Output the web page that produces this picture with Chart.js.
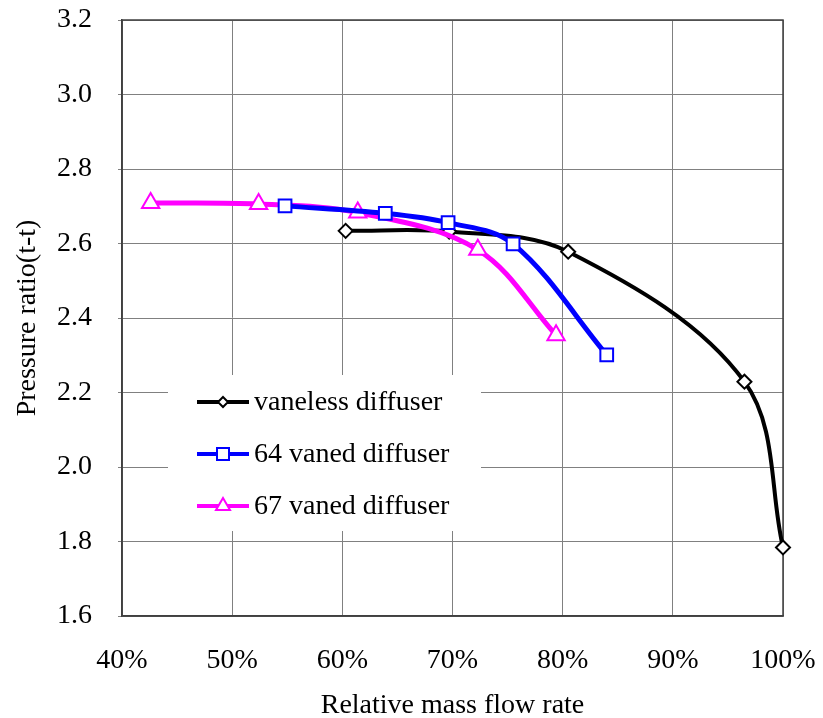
<!DOCTYPE html>
<html>
<head>
<meta charset="utf-8">
<script src="https://cdn.jsdelivr.net/npm/chart.js@4/dist/chart.umd.min.js"></script>
<style>
  html, body { margin: 0; padding: 0; background: #fff; }
  #wrap { width: 823px; height: 718px; }
</style>
</head>
<body>
<div id="wrap"><canvas id="prChart" width="823" height="718"></canvas></div>
<script>
"use strict";

// relative mass flow rate (%) and total-to-total pressure ratio
const vanelessFlow  = [60.3, 69.7, 80.5, 96.5, 100];
const vanelessRatio = [2.634, 2.632, 2.578, 2.229, 1.784];
const vaned64Flow   = [54.8, 63.9, 69.6, 75.5, 84.0];
const vaned64Ratio  = [2.701, 2.681, 2.656, 2.599, 2.301];
const vaned67Flow   = [42.6, 52.4, 61.4, 72.3, 79.4];
const vaned67Ratio  = [2.709, 2.706, 2.683, 2.583, 2.354];

const seriesNames = ["vaneless diffuser", "64 vaned diffuser", "67 vaned diffuser"];
const xTicks = [40, 50, 60, 70, 80, 90, 100];
const yTicks = [1.6, 1.8, 2.0, 2.2, 2.4, 2.6, 2.8, 3.0, 3.2];

const FONT = "'Liberation Serif', 'Times New Roman', serif";

const toPoints = (xs, ys) => xs.map((x, i) => ({ x: x, y: ys[i] }));

function drawMarker(ctx, style, x, y, r, color, lw) {
  ctx.save();
  ctx.beginPath();
  if (style === "rectRot") {
    ctx.moveTo(x, y - r); ctx.lineTo(x + r, y); ctx.lineTo(x, y + r); ctx.lineTo(x - r, y);
  } else if (style === "rect") {
    ctx.rect(x - r, y - r, 2 * r, 2 * r);
  } else {
    const h = r * 1.7, w = r * 2;
    ctx.moveTo(x, y - h * 2 / 3); ctx.lineTo(x + w / 2, y + h / 3); ctx.lineTo(x - w / 2, y + h / 3);
  }
  ctx.closePath();
  ctx.fillStyle = "#fff"; ctx.fill();
  ctx.strokeStyle = color; ctx.lineWidth = lw; ctx.stroke();
  ctx.restore();
}

const legendMarkerSize = [5, 6, 7];

// legend sitting inside the plot, white box over the grid
const innerLegend = {
  id: "innerLegend",
  afterDraw(chart) {
    const ctx = chart.ctx;
    const a = chart.chartArea;
    const bx = a.left + 46, by = a.top + 355;
    ctx.save();
    ctx.fillStyle = "#fff";
    ctx.fillRect(bx, by, 313, 156);
    const rows = [27, 79, 131];
    chart.data.datasets.forEach((ds, i) => {
      const y = by + rows[i];
      ctx.strokeStyle = ds.borderColor;
      ctx.lineWidth = 4;
      ctx.beginPath();
      ctx.moveTo(bx + 29, y); ctx.lineTo(bx + 81, y);
      ctx.stroke();
      drawMarker(ctx, ds.pointStyle, bx + 55, y, legendMarkerSize[i], ds.borderColor, 2);
      ctx.fillStyle = "#000";
      ctx.font = "28px " + FONT;
      ctx.textAlign = "left";
      ctx.textBaseline = "middle";
      ctx.fillText(ds.label, bx + 86, y + 1);
    });
    ctx.restore();
  }
};

function noPad(s) {
  s.paddingTop = 0; s.paddingBottom = 0; s.paddingLeft = 0; s.paddingRight = 0;
}

new Chart(document.getElementById("prChart").getContext("2d"), {
  type: "scatter",
  data: {
    datasets: [
      { label: seriesNames[0], data: toPoints(vanelessFlow, vanelessRatio), showLine: true, order: 3, clip: false,
        borderColor: "#000000", borderWidth: 4, tension: 0.35, pointStyle: "rectRot", pointRadius: 7,
        pointBorderWidth: 2, pointBackgroundColor: "#fff", pointBorderColor: "#000000" },
      { label: seriesNames[1], data: toPoints(vaned64Flow, vaned64Ratio), showLine: true, order: 1, clip: false,
        borderColor: "#0000ff", borderWidth: 5, tension: 0.35, pointStyle: "rect", pointRadius: 9,
        pointBorderWidth: 2, pointBackgroundColor: "#fff", pointBorderColor: "#0000ff" },
      { label: seriesNames[2], data: toPoints(vaned67Flow, vaned67Ratio), showLine: true, order: 2, clip: false,
        borderColor: "#ff00ff", borderWidth: 5, tension: 0.35, pointStyle: "triangle", pointRadius: 10,
        pointBorderWidth: 2, pointBackgroundColor: "#fff", pointBorderColor: "#ff00ff" }
    ]
  },
  options: {
    responsive: false,
    animation: false,
    events: [],
    layout: { padding: { top: 20, right: 40, left: 0, bottom: 0 } },
    plugins: { legend: { display: false }, tooltip: { enabled: false } },
    scales: {
      x: {
        type: "linear", min: 40, max: 100,
        afterFit: s => { s.height = 102; noPad(s); },
        afterBuildTicks: s => { s.ticks = xTicks.map(v => ({ value: v })); },
        ticks: { color: "#000", font: { family: FONT, size: 28 }, padding: 28, callback: v => v + "%" },
        grid: { color: "#808080", lineWidth: 1, drawTicks: false },
        border: { color: "#404040", width: 1.5 },
        title: { display: true, text: "Relative mass flow rate", color: "#000",
                 font: { family: FONT, size: 28, lineHeight: 0.9 }, padding: 0 }
      },
      y: {
        type: "linear", min: 1.6, max: 3.2,
        afterFit: s => { s.width = 122; noPad(s); },
        afterBuildTicks: s => { s.ticks = yTicks.map(v => ({ value: v })); },
        ticks: { color: "#000", font: { family: FONT, size: 28 }, padding: 26, callback: v => v.toFixed(1) },
        grid: { color: "#808080", lineWidth: 1, tickLength: 4 },
        border: { color: "#404040", width: 1.5 },
        title: { display: true, text: "Pressure ratio(t-t)", color: "#000",
                 font: { family: FONT, size: 28 }, padding: { top: 11, bottom: 0 } }
      }
    }
  },
  plugins: [innerLegend, {
    id: "frame",
    beforeDatasetsDraw(chart) {
      const a = chart.chartArea, ctx = chart.ctx;
      ctx.save();
      ctx.strokeStyle = "#404040"; ctx.lineWidth = 1.5;
      ctx.strokeRect(a.left, a.top, a.right - a.left, a.bottom - a.top);
      ctx.restore();
    }
  }]
});
</script>
</body>
</html>
